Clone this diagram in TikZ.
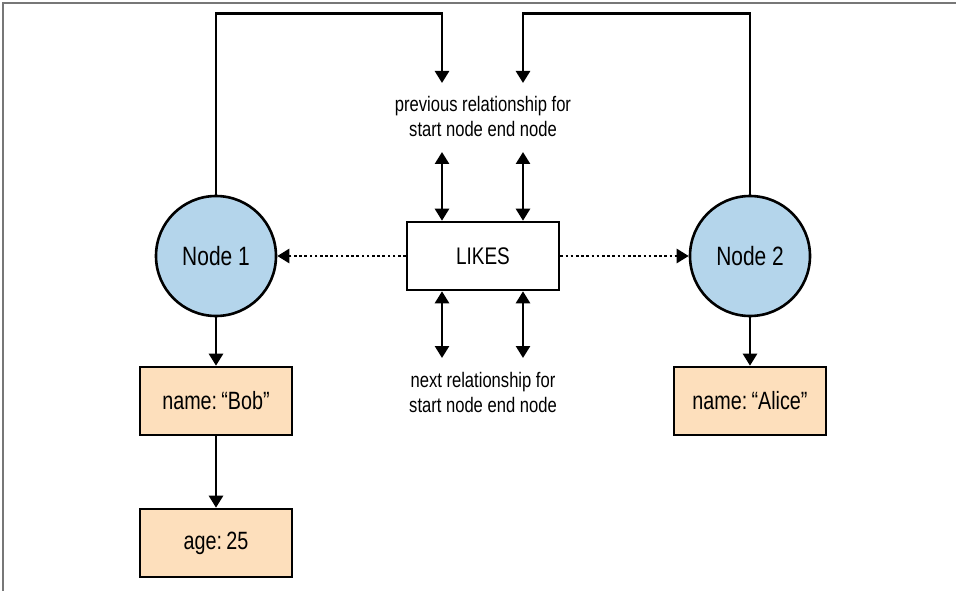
\documentclass[tikz,border=0pt]{standalone}
\usepackage{fontspec}
\setmainfont{Liberation Sans}[FakeStretch=0.79]
\usetikzlibrary{arrows.meta}
\definecolor{nodeblue}{HTML}{B4D5EB}
\definecolor{peach}{HTML}{FDDFBC}
\definecolor{framegray}{HTML}{777777}
\tikzset{
  tip/.tip={Triangle[length=12pt,width=14pt]},
  circ/.style={circle, draw, line width=2.6pt, fill=nodeblue, minimum size=120pt, inner sep=0pt, font=\fontsize{26.5}{30}\selectfont},
  propbox/.style={rectangle, draw, line width=2.6pt, fill=peach, minimum width=152pt, minimum height=68pt, inner sep=0pt, font=\fontsize{25}{30}\selectfont},
  relbox/.style={rectangle, draw, line width=2.6pt, fill=white, minimum width=152pt, minimum height=68pt, inner sep=0pt, font=\fontsize{24}{28}\selectfont},
  lbl/.style={align=center, inner sep=0pt, font=\fontsize{21}{25}\selectfont},
  conn/.style={line width=2.6pt, -tip},
  dconn/.style={line width=2.6pt, tip-tip},
  dotconn/.style={line width=2.6pt, dash pattern=on 2.6pt off 2.6pt, -tip},
}
\begin{document}
\begin{tikzpicture}[x=1pt,y=-1pt]
\useasboundingbox (0,0) rectangle (956,591);
\draw[framegray, line width=1.2pt] (3,591) -- (3,3) -- (956,3);

\node[circ] (n1) at (216,256) {Node 1};
\node[circ] (n2) at (750,256) {Node 2};
\node[relbox] (likes) at (483,256) {LIKES};
\node[propbox] (bob) at (216,401) {name:\,“Bob”};
\node[propbox] (age) at (216,543) {age:\,25};
\node[propbox] (alice) at (750,401) {name:\,“Alice”};
\node[lbl] (prev) at (483,116) {previous relationship for\\start node end node};
\node[lbl] (next) at (483,392) {next relationship for\\start node end node};

\coordinate (pA) at (442,83);
\coordinate (pB) at (523,83);
\coordinate (uA) at (442,152);
\coordinate (uB) at (523,152);
\coordinate (dA) at (442,358);
\coordinate (dB) at (523,358);

\draw[conn] (n1.north) -- ++(0,-181) -| (pA);
\draw[conn] (n2.north) -- ++(0,-181) -| (pB);
\draw[dconn] (uA) -- (uA |- likes.north);
\draw[dconn] (uB) -- (uB |- likes.north);
\draw[dconn] (dA |- likes.south) -- (dA);
\draw[dconn] (dB |- likes.south) -- (dB);
\draw[dotconn] (likes.west) -- (n1.east);
\draw[dotconn] (likes.east) -- (n2.west);
\draw[conn] (n1.south) -- (bob.north);
\draw[conn] (bob.south) -- (age.north);
\draw[conn] (n2.south) -- (alice.north);
\end{tikzpicture}
\end{document}
